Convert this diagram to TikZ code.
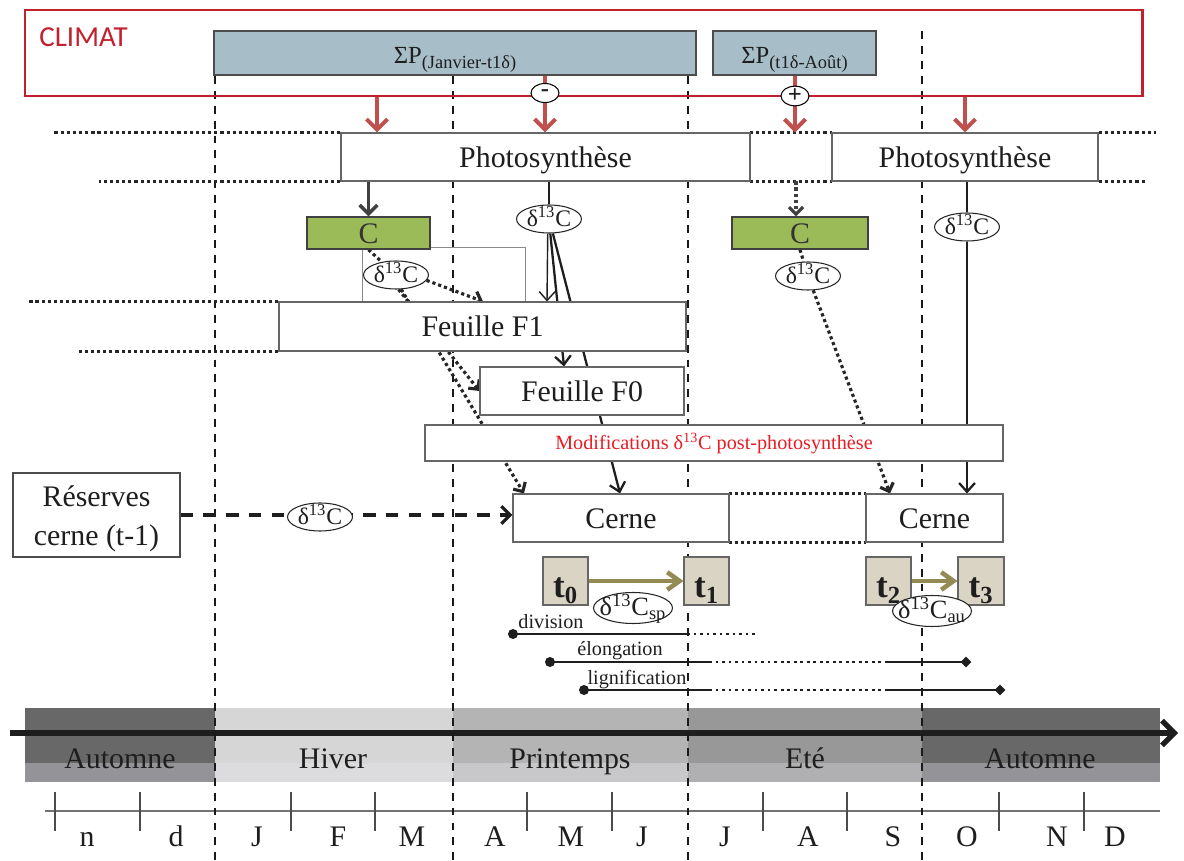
\documentclass[tikz,border=0pt]{standalone}
\usepackage{fontspec}
\setmainfont{Liberation Serif}
\newfontfamily\climfont{Carlito}
\usetikzlibrary{arrows.meta,shapes.geometric,calc}
\pgfdeclarelayer{bg}
\pgfdeclarelayer{mid}
\pgfsetlayers{bg,mid,main}
\definecolor{climred}{RGB}{193,32,46}
\definecolor{arred}{RGB}{192,80,77}
\definecolor{sigfill}{RGB}{167,190,200}
\definecolor{greenfill}{RGB}{155,187,89}
\definecolor{tanfill}{RGB}{217,212,195}
\definecolor{olivec}{RGB}{148,138,84}
\definecolor{modred}{RGB}{232,28,36}
\definecolor{ink}{RGB}{30,30,30}
\definecolor{autA}{RGB}{104,104,104}
\definecolor{autB}{RGB}{148,148,152}
\definecolor{hivA}{RGB}{214,214,214}
\definecolor{hivB}{RGB}{220,220,222}
\definecolor{priA}{RGB}{180,180,180}
\definecolor{priB}{RGB}{200,200,203}
\definecolor{eteA}{RGB}{152,152,152}
\definecolor{eteB}{RGB}{176,176,179}
\newcommand\fbig{\fontsize{17}{21}\selectfont}
\newcommand\fres{\fontsize{17}{22}\selectfont}
\newcommand\fsmall{\fontsize{11.5}{13}\selectfont}
\newcommand\fdel{\fontsize{13.5}{15}\selectfont}
\newcommand\fdelb{\fontsize{15}{17}\selectfont}
\newcommand\fsig{\fontsize{14}{16}\selectfont}
\newcommand\fsubs{\fontsize{10.5}{12}\selectfont}
\newcommand\ftt{\fontsize{20}{22}\selectfont\bfseries}
\newcommand\fclim{\fontsize{16.5}{19}\selectfont}
\begin{document}
\begin{tikzpicture}[x=0.02cm,y=-0.02cm,font=\fbig,text=ink,
  sz/.style 2 args={minimum width=#1*0.02cm,minimum height=#2*0.02cm},
  box/.style={draw=black!60,line width=0.6pt,fill=white,inner sep=0pt,text height=11.5pt,text depth=0pt},
  gbox/.style={draw=black!75,line width=0.8pt,fill=greenfill,inner sep=0pt,text height=11.5pt,text depth=0pt,text=black!80},
  sbox/.style={draw=black!70,line width=0.6pt,fill=sigfill,inner sep=0pt,text height=11.4pt,text depth=0pt},
  tbox/.style={draw=black!60,line width=0.6pt,fill=tanfill,inner sep=0pt,font=\ftt,text height=19pt,text depth=0pt},
  dlab/.style={ellipse,draw=black!85,line width=0.6pt,fill=white,inner ysep=0pt,inner xsep=-2pt,minimum width=1.3cm,minimum height=0.56cm,text height=8.2pt,text depth=0pt,font=\fdel},
  dlabb/.style={dlab,font=\fdelb,minimum width=1.58cm,minimum height=0.62cm,inner xsep=-4pt,text height=9pt},
  sign/.style={ellipse,draw=black,line width=0.6pt,fill=white,inner sep=0pt,minimum width=0.56cm,minimum height=0.38cm,font=\fsig\bfseries},
  redar/.style={draw=arred,line width=2.3pt,-{Straight Barb[length=6pt,width=12pt]}},
  greyar/.style={draw=black!75,line width=2pt,-{Straight Barb[length=5pt,width=10pt]}},
  dotl/.style={draw=black!85,line width=1.8pt,dash pattern=on 1.8pt off 1.7pt},
  dotar/.style={dotl,-{Straight Barb[length=4pt,width=8pt]}},
  solidl/.style={draw=ink,line width=1.6pt},
  solidar/.style={draw=ink,line width=1.3pt,-{Straight Barb[length=5pt,width=9pt]}},
  dashar/.style={draw=ink,line width=1.9pt,dash pattern=on 7pt off 6pt,-{Straight Barb[length=5pt,width=10pt]}},
  olar/.style={draw=olivec,line width=2.6pt,-{Straight Barb[length=7pt,width=10pt]}},
  phase/.style={draw=ink,line width=1.7pt},
  phasedot/.style={draw=ink,line width=1.7pt,dash pattern=on 1.7pt off 2pt},
  bigar/.style={draw=ink,line width=3pt,-{Straight Barb[length=7pt,width=14pt]}},
  vdash/.style={draw=black!90,line width=1.4pt,dash pattern=on 4.5pt off 4pt},
  lab/.style={inner sep=0pt,anchor=base}]
\useasboundingbox (0,0) rectangle (1184,861);

% ---------- background: seasons, axes, dashed month lines ----------
\begin{pgfonlayer}{bg}
  \fill[autA] (25,708) rectangle (215,763);  \fill[autB] (25,763) rectangle (215,782);
  \fill[hivA] (215,708) rectangle (453,763); \fill[hivB] (215,763) rectangle (453,782);
  \fill[priA] (453,708) rectangle (688,763); \fill[priB] (453,763) rectangle (688,782);
  \fill[eteA] (688,708) rectangle (922,763); \fill[eteB] (688,763) rectangle (922,782);
  \fill[autA] (922,708) rectangle (1160,763); \fill[autB] (922,763) rectangle (1160,782);
  \coordinate (axl) at (10,733);
  \coordinate (axr) at (1178,733);
  \draw[bigar] (axl) -- (axr);
  \draw[black!55,line width=1pt] (45,811) -- (1160,811);
  \foreach \xx in {55,140,291,375,527,612,763,847,999,1084}
    \draw[black!70,line width=0.6pt] (\xx,792) -- (\xx,831);
  \foreach \xx in {215,453,688,922}
    \draw[vdash] (\xx,31) -- (\xx,861);
\end{pgfonlayer}

% ---------- nodes ----------
\node[draw=climred,line width=1.7pt,inner sep=0pt,sz={1117}{86}] (climat) at (583.5,53) {};
\node[lab,anchor=base west,text=climred,font=\climfont\fclim] (climlab) at (39,47) {CLIMAT};
\node[sbox,sz={482}{44}] (sig1) at (455,53) {\fsig ΣP\raisebox{-3pt}{\fsubs(Janvier-t1δ)}};
\node[sbox,sz={163}{44}] (sig2) at (794.5,53) {\fsig ΣP\raisebox{-3pt}{\fsubs(t1δ-Août)}};
\node[sign] (minus) at (545,93) {-};
\node[sign] (plus) at (795,96) {+};

\node[box,sz={409}{48}] (ph1) at (545.5,157) {Photosynthèse};
\node[inner sep=0pt,sz={82}{48}] (phgap) at (791,157) {};
\node[box,sz={266}{48}] (ph2) at (965,157) {Photosynthèse};

\node[gbox,sz={123}{32}] (g1) at (368.5,233) {C};
\node[gbox,sz={136}{32}] (g2) at (800,233) {C};

\node[box,sz={407}{49}] (f1) at (482.5,326.5) {Feuille F1};
\node[box,sz={204}{48}] (f0) at (582,391) {Feuille F0};
\node[box,sz={578}{36},font=\fsmall,text=modred,text height=7.8pt] (mod) at (714,443) {Modifications δ\textsuperscript{13}C post-photosynthèse};
\node[box,sz={216}{48}] (c1) at (621,518) {Cerne};
\node[inner sep=0pt,sz={137}{48}] (cgap) at (797.5,518) {};
\node[box,sz={137}{48}] (c2) at (934.5,518) {Cerne};
\node[draw=black!70,line width=0.6pt,fill=white,inner sep=0pt,align=center,font=\fres,sz={167}{84}] (res) at (96.5,515) {\rule{0pt}{16pt}Réserves\\cerne (t-1)};

\node[tbox,sz={45}{48}] (t0) at (565.5,581) {t\textsubscript{0}};
\node[tbox,sz={45}{48}] (t1) at (706.5,581) {t\textsubscript{1}};
\node[tbox,sz={45}{48}] (t2) at (888.5,581) {t\textsubscript{2}};
\node[tbox,sz={46}{48}] (t3) at (981,581) {t\textsubscript{3}};

\node[dlab] (e1) at (549,219) {δ\textsuperscript{13}C};
\node[dlab] (e2) at (396,275) {δ\textsuperscript{13}C};
\node[dlab] (e3) at (808,276) {δ\textsuperscript{13}C};
\node[dlab] (e4) at (967,227) {δ\textsuperscript{13}C};
\node[dlab] (e5) at (320,517) {δ\textsuperscript{13}C};
\node[dlabb] (esp) at (633,608) {δ\textsuperscript{13}C\textsubscript{sp}};
\node[dlabb] (eau) at (932,611) {δ\textsuperscript{13}C\textsubscript{au}};

\node[font=\fsmall,inner sep=0pt] (ldiv) at (551,622) {division};
\node[font=\fsmall,inner sep=0pt] (lelo) at (620,651) {élongation};
\node[font=\fsmall,inner sep=0pt] (llig) at (637,680) {lignification};

% seasons and months
\node[lab] (s1) at (120,768) {Automne};
\node[lab] (s2) at (333,768) {Hiver};
\node[lab] (s3) at (570,768) {Printemps};
\node[lab] (s4) at (805,768) {Eté};
\node[lab] (s5) at (1040,768) {Automne};
\node[lab] (m1) at (87,846) {n};
\node[lab] (m2) at (176,846) {d};
\node[lab] (m3) at (257,846) {J};
\node[lab] (m4) at (338,846) {F};
\node[lab] (m5) at (412,846) {M};
\node[lab] (m6) at (495,846) {A};
\node[lab] (m7) at (571,846) {M};
\node[lab] (m8) at (642,846) {J};
\node[lab] (m9) at (725,846) {J};
\node[lab] (m10) at (808,846) {A};
\node[lab] (m11) at (893,846) {S};
\node[lab] (m12) at (967,846) {O};
\node[lab] (m13) at (1057,846) {N};
\node[lab] (m14) at (1115,846) {D};

% ---------- connectors ----------
\begin{pgfonlayer}{mid}
  % dotted extensions and gap boxes
  \draw[dotl] (ph1.north west) -- ++(-286,0);
  \draw[dotl] (ph1.south west) -- ++(-241,0);
  \draw[dotl] (ph2.north east) -- ++(57,0);
  \draw[dotl] (ph2.south east) -- ++(47,0);
  \draw[dotl] (phgap.north west) -- (phgap.north east);
  \draw[dotl] (phgap.south west) -- (phgap.south east);
  \draw[dotl] (f1.north west) -- ++(-249,0);
  \draw[dotl] (f1.south west) -- ++(-199,0);
  \draw[dotl] (cgap.north west) -- (cgap.north east);
  \draw[dotl] (cgap.south west) -- (cgap.south east);
  \draw[black!45,line width=0.5pt] (362,247) rectangle (525,302);

  % climate forcing
  \coordinate (xr1) at (377,0);
  \coordinate (xr4) at (965,0);
  \draw[redar] (climat.south -| xr1) -- (ph1.north -| xr1);
  \draw[redar] (sig1.south -| minus) -- (ph1.north -| minus);
  \draw[redar] (sig2.south -| plus) -- (phgap.north -| plus);
  \draw[redar] (climat.south -| xr4) -- (ph2.north -| xr4);

  % photosynthesis to C pools
  \draw[greyar] (ph1.south -| g1) -- (g1.north);
  \coordinate (xg2) at (796,0);
  \draw[dotar,draw=black!75] (phgap.south -| xg2) -- (g2.north -| xg2);

  % direct flows from photosynthesis 1
  \coordinate (xf1) at (547,0);
  \coordinate (xf0) at (564,0);
  \coordinate (xc1) at (620,0);
  \draw[solidl] (ph1.south -| e1) -- (e1.north);
  \draw[solidar,line width=0.8pt] (e1.-95) -- (f1.north -| xf1);
  \draw[solidar] (e1.-85) -- (f0.north -| xf0);
  \draw[solidar] (e1.-75) -- (c1.north -| xc1);

  % reserves C pool 1
  \coordinate (xf1b) at (483,0);
  \coordinate (xc1b) at (524,0);
  \draw[dotl] (g1.south) -- (e2);
  \draw[dotar] (e2.-10) -- (f1.north -| xf1b);
  \draw[dotar] (e2.-80) -- (f0.west);
  \draw[dotar] (e2.-70) -- (c1.north -| xc1b);

  % photosynthesis 2
  \draw[solidl] (ph2.south -| e4) -- (e4.north);
  \draw[solidar] (e4.south) -- (c2.north -| e4);

  % C pool 2
  \coordinate (xc2) at (890,0);
  \draw[dotl] (g2.south) -- (e3);
  \draw[dotar] (e3.-70) -- (c2.north -| xc2);

  % reserves of previous ring
  \draw[dashar] (res.east) -- (res.east -| c1.west);

  % time steps
  \draw[olar] (t0.east) -- (t1.west);
  \draw[olar] (t2.east) -- (t3.west);

  % phases
  \coordinate (d0) at (513,634); \coordinate (d1) at (687,634); \coordinate (d2) at (757,634);
  \coordinate (l0) at (550,662); \coordinate (l1) at (709,662); \coordinate (l2) at (885,662); \coordinate (l3) at (966,662);
  \coordinate (k0) at (584,690); \coordinate (k1) at (709,690); \coordinate (k2) at (885,690); \coordinate (k3) at (1000,690);
  \draw[phase] (d0) -- (d1); \draw[phasedot] (d1) -- (d2);
  \draw[phase] (l0) -- (l1); \draw[phasedot] (l1) -- (l2); \draw[phase] (l2) -- (l3);
  \draw[phase] (k0) -- (k1); \draw[phasedot] (k1) -- (k2); \draw[phase] (k2) -- (k3);
  \fill[ink] (d0) circle[radius=0.1cm];
  \fill[ink] (l0) circle[radius=0.1cm];
  \fill[ink] (k0) circle[radius=0.1cm];
\end{pgfonlayer}
\node[diamond,fill=ink,inner sep=0pt,minimum size=0.22cm] (dm1) at (l3) {};
\node[diamond,fill=ink,inner sep=0pt,minimum size=0.22cm] (dm2) at (k3) {};
\end{tikzpicture}
\end{document}
